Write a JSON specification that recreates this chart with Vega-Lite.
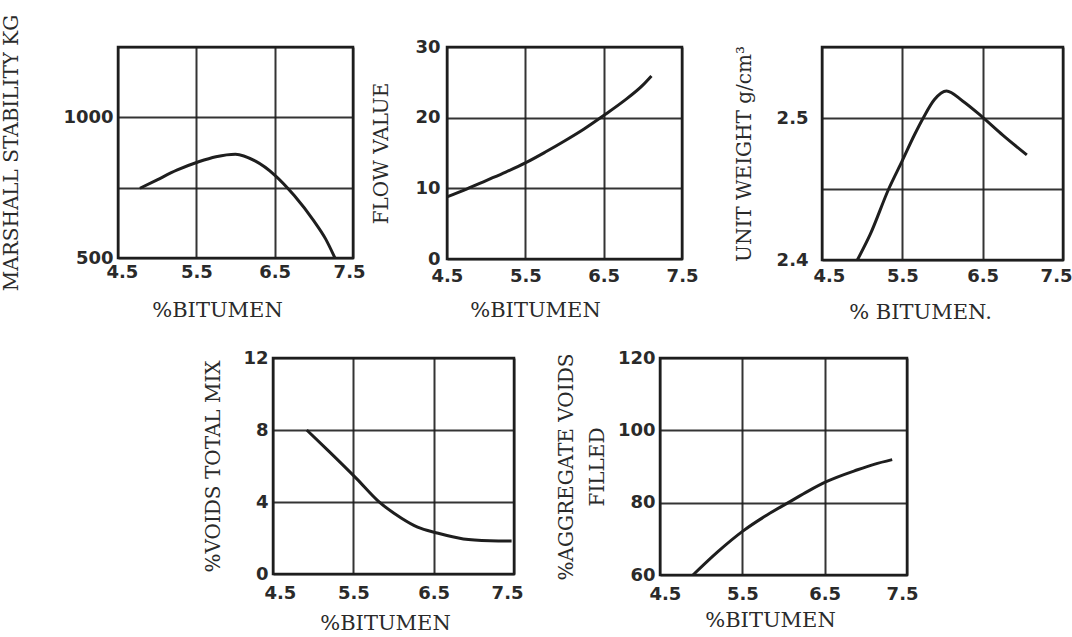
{
  "$schema": "https://vega.github.io/schema/vega-lite/v6.json",
  "background": "white",
  "padding": {"left": 0, "top": 13, "right": 0, "bottom": 0},
  "datasets": {
    "stability": [
      {"bitumen": 4.78, "value": 748}, {"bitumen": 5.0, "value": 778}, {"bitumen": 5.25, "value": 812},
      {"bitumen": 5.53, "value": 842}, {"bitumen": 5.75, "value": 860}, {"bitumen": 6.0, "value": 869},
      {"bitumen": 6.25, "value": 845}, {"bitumen": 6.5, "value": 795}, {"bitumen": 6.75, "value": 722},
      {"bitumen": 7.0, "value": 632}, {"bitumen": 7.15, "value": 568}, {"bitumen": 7.27, "value": 500}
    ],
    "flow": [
      {"bitumen": 4.5, "value": 8.8}, {"bitumen": 4.75, "value": 9.9}, {"bitumen": 5.0, "value": 11.1},
      {"bitumen": 5.25, "value": 12.3}, {"bitumen": 5.5, "value": 13.6}, {"bitumen": 5.75, "value": 15.1},
      {"bitumen": 6.0, "value": 16.7}, {"bitumen": 6.25, "value": 18.4}, {"bitumen": 6.5, "value": 20.3},
      {"bitumen": 6.75, "value": 22.3}, {"bitumen": 7.0, "value": 24.6}, {"bitumen": 7.11, "value": 25.9}
    ],
    "unitweight": [
      {"bitumen": 4.94, "value": 2.4}, {"bitumen": 5.1, "value": 2.418}, {"bitumen": 5.33, "value": 2.45},
      {"bitumen": 5.5, "value": 2.47}, {"bitumen": 5.65, "value": 2.488}, {"bitumen": 5.76, "value": 2.5},
      {"bitumen": 5.9, "value": 2.513}, {"bitumen": 6.05, "value": 2.519}, {"bitumen": 6.25, "value": 2.512},
      {"bitumen": 6.49, "value": 2.501}, {"bitumen": 6.75, "value": 2.488}, {"bitumen": 7.05, "value": 2.474}
    ],
    "voids": [
      {"bitumen": 4.92, "value": 8.0}, {"bitumen": 5.2, "value": 6.8}, {"bitumen": 5.54, "value": 5.3},
      {"bitumen": 5.81, "value": 4.05}, {"bitumen": 6.1, "value": 3.1}, {"bitumen": 6.3, "value": 2.6},
      {"bitumen": 6.54, "value": 2.28}, {"bitumen": 6.87, "value": 1.95}, {"bitumen": 7.2, "value": 1.85},
      {"bitumen": 7.47, "value": 1.83}
    ],
    "avf": [
      {"bitumen": 4.9, "value": 60}, {"bitumen": 5.2, "value": 66.4}, {"bitumen": 5.51, "value": 72.2},
      {"bitumen": 5.8, "value": 76.6}, {"bitumen": 6.08, "value": 80.3}, {"bitumen": 6.3, "value": 83.2},
      {"bitumen": 6.52, "value": 85.8}, {"bitumen": 6.9, "value": 89.1}, {"bitumen": 7.1, "value": 90.6},
      {"bitumen": 7.32, "value": 91.9}
    ],
    "blank": [{}]
  },
  "config": {
    "view": {"stroke": "#1e1e1e", "strokeWidth": 2.5},
    "line": {"interpolate": "monotone", "strokeWidth": 3, "color": "#1e1e1e"},
    "axis": {
      "grid": true, "gridColor": "#1e1e1e", "gridWidth": 2, "gridOpacity": 0.9,
      "domain": false, "ticks": false, "labelOverlap": false, "labelFlush": false,
      "labelFont": "DejaVu Sans", "labelFontWeight": "bold", "labelFontSize": 18, "labelColor": "#2a2a2a",
      "titleFont": "DejaVu Serif", "titleFontSize": 20, "titleFontWeight": "normal", "titleColor": "#2a2a2a"
    }
  },
  "spacing": 23,
  "vconcat": [
    {
      "spacing": 0,
      "bounds": "flush",
      "hconcat": [
        {
          "width": 235, "height": 211,
          "data": {"name": "stability"},
          "mark": {"type": "line"},
          "encoding": {
            "x": {"field": "bitumen", "type": "quantitative", "scale": {"domain": [4.5, 7.5], "nice": false, "zero": false},
                  "axis": {"values": [4.5, 5.5, 6.5, 7.5], "format": ".1f", "title": "%BITUMEN", "titleFontSize": 21, "labelFlush": true, "labelFlushOffset": 12, "labelPadding": 5, "titlePadding": 18, "titleX": 99}},
            "y": {"field": "value", "type": "quantitative", "scale": {"domain": [500, 1250], "nice": false, "zero": false},
                  "axis": {"values": [500, 750, 1000, 1250], "format": "d", "labelExpr": "datum.value == 500 || datum.value == 1000 ? datum.label : ''", "title": "MARSHALL STABILITY KG", "labelPadding": 5, "titlePadding": 41}}
          }
        },
        {"width": 94, "height": 1, "data": {"name": "blank"}, "mark": {"type": "point", "opacity": 0}, "view": {"stroke": null}},
        {
          "width": 235, "height": 212,
          "data": {"name": "flow"},
          "mark": {"type": "line"},
          "encoding": {
            "x": {"field": "bitumen", "type": "quantitative", "scale": {"domain": [4.5, 7.5], "nice": false, "zero": false},
                  "axis": {"values": [4.5, 5.5, 6.5, 7.5], "format": ".1f", "title": "%BITUMEN", "titleFontSize": 21, "labelFlush": true, "labelFlushOffset": 16, "labelPadding": 8, "titlePadding": 14, "titleX": 88}},
            "y": {"field": "value", "type": "quantitative", "scale": {"domain": [0, 30], "nice": false},
                  "axis": {"values": [0, 10, 20, 30], "title": "FLOW VALUE", "labelPadding": 7, "titlePadding": 23}}
          }
        },
        {"width": 140, "height": 1, "data": {"name": "blank"}, "mark": {"type": "point", "opacity": 0}, "view": {"stroke": null}},
        {
          "width": 241, "height": 213,
          "data": {"name": "unitweight"},
          "mark": {"type": "line"},
          "encoding": {
            "x": {"field": "bitumen", "type": "quantitative", "scale": {"domain": [4.5, 7.5], "nice": false, "zero": false},
                  "axis": {"values": [4.5, 5.5, 6.5, 7.5], "format": ".1f", "title": "% BITUMEN.", "titleFontSize": 21, "labelFlush": true, "labelFlushOffset": 9, "labelPadding": 7, "titlePadding": 16, "titleX": 98}},
            "y": {"field": "value", "type": "quantitative", "scale": {"domain": [2.4, 2.55], "nice": false, "zero": false},
                  "axis": {"values": [2.4, 2.45, 2.5, 2.55], "labelExpr": "abs(datum.value - 2.4) < 0.001 ? '2.4' : (abs(datum.value - 2.5) < 0.001 ? '2.5' : '')", "title": "UNIT WEIGHT g/cm³", "labelPadding": 14, "titlePadding": 22}}
          }
        }
      ]
    },
    {
      "spacing": 0,
      "bounds": "flush",
      "hconcat": [
        {"width": 155, "height": 1, "data": {"name": "blank"}, "mark": {"type": "point", "opacity": 0}, "view": {"stroke": null}},
        {
          "width": 241, "height": 216,
          "data": {"name": "voids"},
          "mark": {"type": "line"},
          "encoding": {
            "x": {"field": "bitumen", "type": "quantitative", "scale": {"domain": [4.5, 7.5], "nice": false, "zero": false},
                  "axis": {"values": [4.5, 5.5, 6.5, 7.5], "format": ".1f", "title": "%BITUMEN", "titleFontSize": 21, "labelFlush": true, "labelFlushOffset": 9, "labelPadding": 10, "titlePadding": 10, "titleX": 112}},
            "y": {"field": "value", "type": "quantitative", "scale": {"domain": [0, 12], "nice": false},
                  "axis": {"values": [0, 4, 8, 12], "title": "%VOIDS TOTAL MIX", "labelPadding": 5, "titlePadding": 19}}
          }
        },
        {"width": 146, "height": 1, "data": {"name": "blank"}, "mark": {"type": "point", "opacity": 0}, "view": {"stroke": null}},
        {
          "width": 247, "height": 217,
          "data": {"name": "avf"},
          "mark": {"type": "line"},
          "encoding": {
            "x": {"field": "bitumen", "type": "quantitative", "scale": {"domain": [4.5, 7.5], "nice": false, "zero": false},
                  "axis": {"values": [4.5, 5.5, 6.5, 7.5], "format": ".1f", "title": "%BITUMEN", "titleFontSize": 21, "labelFlush": true, "labelFlushOffset": 11, "labelPadding": 10, "titlePadding": 6, "titleX": 110}},
            "y": {"field": "value", "type": "quantitative", "scale": {"domain": [60, 120], "nice": false, "zero": false},
                  "axis": {"values": [60, 80, 100, 120], "title": ["%AGGREGATE VOIDS", "FILLED"], "titleLineHeight": 31, "labelPadding": 5, "titlePadding": 10}}
          }
        }
      ]
    }
  ]
}
